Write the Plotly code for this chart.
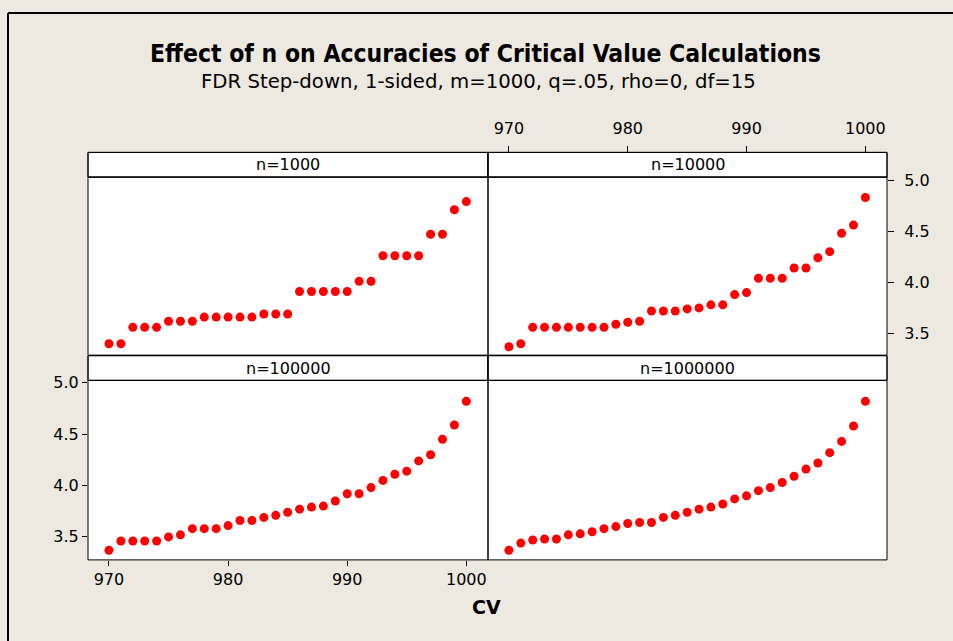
import plotly.graph_objects as go

W, H = 953, 641

cv = list(range(970, 1001))
panel_labels = ["n=1000", "n=10000", "n=100000", "n=1000000"]

n1000 = [3.40, 3.40, 3.56, 3.56, 3.56, 3.62, 3.62, 3.62, 3.66, 3.66, 3.66, 3.66, 3.66,
         3.69, 3.69, 3.69, 3.91, 3.91, 3.91, 3.91, 3.91, 4.01, 4.01, 4.26, 4.26, 4.26,
         4.26, 4.47, 4.47, 4.71, 4.79]
n10000 = [3.37, 3.40, 3.56, 3.56, 3.56, 3.56, 3.56, 3.56, 3.56, 3.59, 3.61, 3.62, 3.72,
          3.72, 3.72, 3.74, 3.75, 3.78, 3.78, 3.88, 3.90, 4.04, 4.04, 4.04, 4.14, 4.14,
          4.24, 4.30, 4.48, 4.56, 4.83]
n100000 = [3.37, 3.46, 3.46, 3.46, 3.46, 3.50, 3.52, 3.58, 3.58, 3.58, 3.61, 3.66, 3.66,
           3.69, 3.71, 3.74, 3.77, 3.79, 3.80, 3.85, 3.92, 3.92, 3.98, 4.05, 4.11, 4.14,
           4.24, 4.30, 4.45, 4.59, 4.82]
n1000000 = [3.37, 3.44, 3.47, 3.48, 3.48, 3.52, 3.53, 3.55, 3.58, 3.60, 3.63, 3.64, 3.64,
            3.69, 3.71, 3.74, 3.77, 3.79, 3.82, 3.87, 3.90, 3.95, 3.98, 4.03, 4.09, 4.16,
            4.22, 4.32, 4.43, 4.58, 4.82]

x_ticks = [970, 980, 990, 1000]
y_ticks = [3.5, 4.0, 4.5, 5.0]

title = "Effect of n on Accuracies of Critical Value Calculations"
subtitle = "FDR Step-down, 1-sided, m=1000, q=.05, rho=0, df=15"
x_title = "CV"


def px(x):
    return x / W


def py(y):
    return 1 - y / H


FONT = "DejaVu Sans"
TFONT = "DejaVu Sans Condensed, DejaVu Sans"
BG = "#EDE9E0"

# panel geometry (pixels)
xl = (88, 488)
xr = (488, 887)
top_plot = (172, 352)
bot_plot = (377.5, 559)
top_strip = (147, 172)
bot_strip = (352.5, 377.5)

xrange_ = [968.24, 1001.82]
yrange_top = [3.288, 5.029]
yrange_bot = [3.276, 5.024]

fig = go.Figure()

series = [(n1000, "x3", "y3"), (n10000, "x4", "y4"), (n100000, "x", "y"), (n1000000, "x2", "y2")]
for vals, xa, ya in series:
    fig.add_trace(go.Scatter(x=cv, y=vals, xaxis=xa, yaxis=ya, mode="markers",
                             marker=dict(color="#FF0000", size=9, line=dict(width=0)),
                             showlegend=False, hoverinfo="x+y"))

tickfont = dict(family=FONT, size=16, color="#000000")
hidden = dict(showticklabels=False, ticks="", showgrid=False, zeroline=False, showline=False)

fig.update_layout(
    width=W, height=H,
    margin=dict(l=0, r=0, t=0, b=0),
    paper_bgcolor=BG, plot_bgcolor="#FFFFFF",
    font=dict(family=FONT, color="#000000"),
    # bottom-left
    xaxis=dict(domain=[px(xl[0]), px(xl[1])], range=xrange_, anchor="y", side="bottom",
               tickvals=x_ticks, ticks="outside", ticklen=5, tickcolor="#000", tickwidth=1,
               tickfont=tickfont, showgrid=False, zeroline=False, showline=False),
    yaxis=dict(domain=[py(bot_plot[1]), py(bot_plot[0])], range=yrange_bot, anchor="x", side="left",
               tickvals=y_ticks, tickformat=".1f", ticks="outside", ticklen=5, tickcolor="#000",
               tickwidth=1, tickfont=tickfont, showgrid=False, zeroline=False, showline=False),
    # bottom-right
    xaxis2=dict(domain=[px(xr[0]), px(xr[1])], range=xrange_, anchor="y2", **hidden),
    yaxis2=dict(domain=[py(bot_plot[1]), py(bot_plot[0])], range=yrange_bot, anchor="x2", **hidden),
    # top-left
    xaxis3=dict(domain=[px(xl[0]), px(xl[1])], range=xrange_, anchor="y3", **hidden),
    yaxis3=dict(domain=[py(top_plot[1]), py(top_plot[0])], range=yrange_top, anchor="x3", **hidden),
    # top-right
    xaxis4=dict(domain=[px(xr[0]), px(xr[1])], range=xrange_, anchor="free", position=py(top_strip[0]),
                side="top", tickvals=x_ticks, ticks="outside", ticklen=6, tickcolor="#000", tickwidth=1,
                ticklabelstandoff=6,
                tickfont=tickfont, showgrid=False, zeroline=False, showline=False),
    yaxis4=dict(domain=[py(top_plot[1]), py(top_plot[0])], range=yrange_top, anchor="x4", side="right",
                tickvals=y_ticks, tickformat=".1f", ticks="outside", ticklen=6, tickcolor="#000",
                ticklabelstandoff=7,
                tickwidth=1, tickfont=tickfont, showgrid=False, zeroline=False, showline=False),
)

shapes = []
line = dict(color="#000000", width=1)
for (x0, x1), (y0, y1) in [(xl, top_strip), (xr, top_strip), (xl, bot_strip), (xr, bot_strip)]:
    shapes.append(dict(type="rect", xref="paper", yref="paper", x0=px(x0), x1=px(x1),
                       y0=py(y1), y1=py(y0), fillcolor="#FFFFFF", line=line, layer="below"))
for (x0, x1), (y0, y1) in [(xl, top_plot), (xr, top_plot), (xl, bot_plot), (xr, bot_plot)]:
    shapes.append(dict(type="rect", xref="paper", yref="paper", x0=px(x0), x1=px(x1),
                       y0=py(y1), y1=py(y0), line=line, fillcolor="rgba(0,0,0,0)", layer="above"))
for (x0, x1), (y0, y1) in [(xl, top_strip), (xr, top_strip), (xl, bot_strip), (xr, bot_strip)]:
    shapes.append(dict(type="rect", xref="paper", yref="paper", x0=px(x0), x1=px(x1),
                       y0=py(y1), y1=py(y0), line=line, fillcolor="rgba(0,0,0,0)", layer="above"))
shapes.append(dict(type="line", xref="paper", yref="paper", x0=px(8), x1=px(8), y0=0, y1=py(6),
                   line=dict(color="#000", width=2)))
shapes.append(dict(type="line", xref="paper", yref="paper", x0=px(8), x1=1, y0=py(6), y1=py(6),
                   line=dict(color="#000", width=2)))
fig.update_layout(shapes=shapes)

ann = []
for (x0, x1), (y0, y1), lab in [(xl, top_strip, panel_labels[0]), (xr, top_strip, panel_labels[1]),
                                (xl, bot_strip, panel_labels[2]), (xr, bot_strip, panel_labels[3])]:
    ann.append(dict(x=px((x0 + x1) / 2), y=py((y0 + y1) / 2), xref="paper", yref="paper",
                    text=lab, showarrow=False, xanchor="center", yanchor="middle",
                    font=dict(family=FONT, size=16, color="#000")))
ann.append(dict(x=px(485), y=py(47), xref="paper", yref="paper", text="<b>" + title + "</b>",
                showarrow=False, xanchor="center", yanchor="middle",
                font=dict(family=TFONT, size=24.5, color="#000")))
ann.append(dict(x=px(478), y=py(75), xref="paper", yref="paper", text=subtitle, showarrow=False,
                xanchor="center", yanchor="middle", font=dict(family=FONT, size=19.7, color="#000")))
ann.append(dict(x=px(486), y=py(607), xref="paper", yref="paper", text="<b>" + x_title + "</b>",
                showarrow=False, xanchor="center", yanchor="middle",
                font=dict(family=FONT, size=19, color="#000")))
fig.update_layout(annotations=ann)

fig.write_html("out.html", config={"displayModeBar": False},
               post_script="document.body.style.margin='0px';document.body.style.background='" + BG + "';")
